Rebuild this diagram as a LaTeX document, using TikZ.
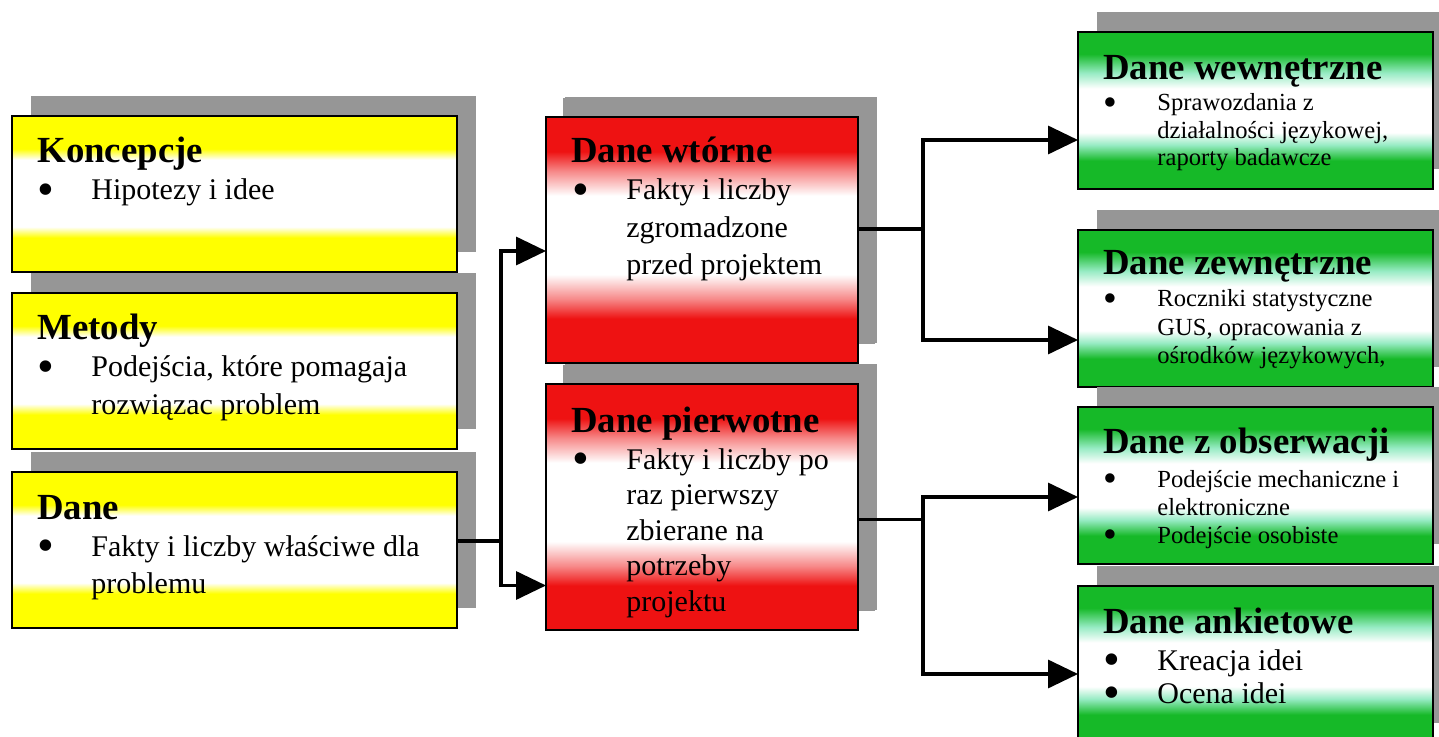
\documentclass[tikz,border=0pt]{standalone}
\usepackage{graphicx}
\usepackage{fontspec}
\setmainfont{Liberation Serif}
\usetikzlibrary{positioning,shadows,arrows.meta}

\definecolor{zolc}{RGB}{255,255,0}
\definecolor{czer}{RGB}{238,18,18}
\definecolor{ziel}{RGB}{22,185,40}
\definecolor{zielj}{RGB}{150,235,195}
\definecolor{cien}{RGB}{150,150,150}

\pgfdeclareverticalshading{zolty}{100bp}{color(0bp)=(zolc); color(36bp)=(zolc); color(39.5bp)=(white); color(61bp)=(white); color(64.5bp)=(zolc); color(100bp)=(zolc)}
\pgfdeclareverticalshading{czerwony}{100bp}{color(0bp)=(czer); color(34bp)=(czer); color(38bp)=(czer!50!white); color(43bp)=(white); color(59bp)=(white); color(64bp)=(czer!50!white); color(68bp)=(czer); color(100bp)=(czer)}
\pgfdeclareverticalshading{zielen}{100bp}{color(0bp)=(ziel); color(34bp)=(ziel); color(39bp)=(zielj); color(43bp)=(white); color(57bp)=(white); color(62bp)=(zielj); color(68bp)=(ziel); color(100bp)=(ziel)}

% wypunktowanie: kropka + wiersze w kolumnie
\newlength{\wciecie}
\setlength{\wciecie}{27pt}
\newcommand{\lista}[1]{\begin{tabular}[t]{@{}l@{}l@{}}#1\end{tabular}}
\newcommand{\pkt}{\makebox[\wciecie][l]{\raisebox{-0.19em}{\scalebox{1.6}{\textbullet}}}&}

\tikzstyle{pojecie} = [draw, rectangle, shade, shading=zolty, line width=1.4pt, minimum width=222.5pt, minimum height=78pt, inner sep=0pt, outer sep=0pt, general shadow={shadow xshift=9.5pt, shadow yshift=10pt, fill=cien}]
\tikzstyle{rodzaj} = [pojecie, shading=czerwony, minimum width=156pt, minimum height=123pt, general shadow={shadow xshift=8.5pt, shadow yshift=9.5pt, fill=cien}]
\tikzstyle{zrodlo} = [pojecie, shading=zielen, minimum width=177.5pt, minimum height=78.5pt]
\tikzstyle{tytul} = [anchor=base west, inner sep=0pt, font=\fontsize{18.4}{22}\selectfont\bfseries]
\tikzstyle{opis} = [anchor=base west, inner sep=0pt, font=\fontsize{15}{18.75}\selectfont]
\tikzstyle{line} = [draw, line width=1.7pt, -{Triangle[length=15pt,width=14pt]}]

\begin{document}
\begin{tikzpicture}[x=0.5pt, y=-0.5pt]
    \useasboundingbox (0,0) rectangle (1439,737);

    % lewa kolumna
    \node [pojecie, anchor=north west] (koncepcje) at (12,116) {};
    \node [pojecie, below=10.5pt of koncepcje] (metody) {};
    \node [pojecie, below=11.5pt of metody] (dane) {};

    % srodek
    \node [rodzaj, anchor=north west] (wtorne) at (546,117) {};
    \node [rodzaj, below=10.5pt of wtorne] (pierwotne) {};

    % prawa kolumna
    \node [zrodlo, anchor=north west] (wewnetrzne) at (1078,32) {};
    \node [zrodlo, below=20.5pt of wewnetrzne] (zewnetrzne) {};
    \node [zrodlo, below=10pt of zewnetrzne] (obserwacje) {};
    \node [zrodlo, below=11pt of obserwacje] (ankiety) {};

    % teksty
    \node [tytul] (koncepcje-t) at ([shift={(25,47)}]koncepcje.north west) {Koncepcje};
    \node [opis] (koncepcje-o) at ([shift={(25,84)}]koncepcje.north west) {\lista{\pkt Hipotezy i idee}};
    \node [tytul] (metody-t) at ([shift={(25,47)}]metody.north west) {Metody};
    \node [opis] (metody-o) at ([shift={(25,84)}]metody.north west) {\lista{\pkt Podejścia, które pomagaja\\ & rozwiązac problem}};
    \node [tytul] (dane-t) at ([shift={(25,47)}]dane.north west) {Dane};
    \node [opis] (dane-o) at ([shift={(25,84)}]dane.north west) {\lista{\pkt Fakty i liczby właściwe dla\\ & problemu}};

    \node [tytul] (wtorne-t) at ([shift={(25,46)}]wtorne.north west) {Dane wtórne};
    \node [opis] (wtorne-o) at ([shift={(26,83)}]wtorne.north west) {\lista{\pkt Fakty i liczby\\ & zgromadzone\\ & przed projektem}};
    \node [tytul] (pierwotne-t) at ([shift={(25,48)}]pierwotne.north west) {Dane pierwotne};
    \node [opis, font=\fontsize{15}{17.75}\selectfont] (pierwotne-o) at ([shift={(26,85)}]pierwotne.north west) {\lista{\pkt Fakty i liczby po\\ & raz pierwszy\\ & zbierane na\\ & potrzeby\\ & projektu}};

    \node [tytul] (wewnetrzne-t) at ([shift={(25,48)}]wewnetrzne.north west) {Dane wewnętrzne};
    \node [opis, font=\fontsize{12.3}{13.75}\selectfont] (wewnetrzne-o) at ([shift={(25,79)}]wewnetrzne.north west) {\lista{\pkt Sprawozdania z\\ & działalności językowej,\\ & raporty badawcze}};
    \node [tytul] (zewnetrzne-t) at ([shift={(25,45)}]zewnetrzne.north west) {Dane zewnętrzne};
    \node [opis, font=\fontsize{12.3}{14.25}\selectfont] (zewnetrzne-o) at ([shift={(25,77)}]zewnetrzne.north west) {\lista{\pkt Roczniki statystyczne\\ & GUS, opracowania z\\ & ośrodków językowych,}};
    \node [tytul] (obserwacje-t) at ([shift={(25,46)}]obserwacje.north west) {Dane z obserwacji};
    \node [opis, font=\fontsize{12.3}{14}\selectfont] (obserwacje-o) at ([shift={(25,80)}]obserwacje.north west) {\lista{\pkt Podejście mechaniczne i\\ & elektroniczne\\ \pkt Podejście osobiste}};
    \node [tytul] (ankiety-t) at ([shift={(25,47)}]ankiety.north west) {Dane ankietowe};
    \node [opis, font=\fontsize{15}{16.5}\selectfont] (ankiety-o) at ([shift={(25,84)}]ankiety.north west) {\lista{\pkt Kreacja idei\\ \pkt Ocena idei}};

    % polaczenia
    \path [line] ([yshift=4.5pt]dane.east) -- ++(22pt,0) coordinate (wezel1) |- ([yshift=-5.5pt]wtorne.west);
    \path [line] (wezel1) |- ([yshift=-39.25pt]pierwotne.west);
    \path [line] ([yshift=5.5pt]wtorne.east) -- ++(32.5pt,0) coordinate (wezel2) |- ([yshift=-14.75pt]wewnetrzne.west);
    \path [line] (wezel2) |- ([yshift=-15.75pt]zewnetrzne.west);
    \path [line] ([yshift=-6.25pt]pierwotne.east) -- ++(32.5pt,0) coordinate (wezel3) |- ([yshift=-5.75pt]obserwacje.west);
    \path [line] (wezel3) |- ([yshift=-4.75pt]ankiety.west);
\end{tikzpicture}
\end{document}
